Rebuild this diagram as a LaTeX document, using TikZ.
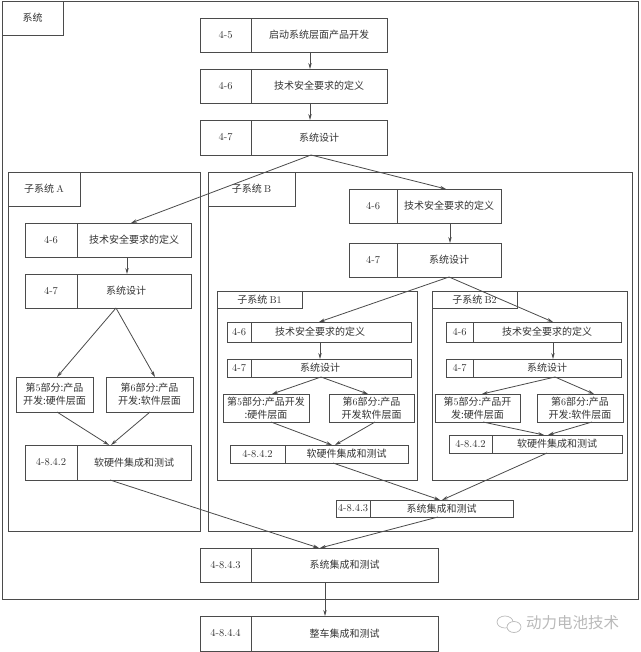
\documentclass[tikz,border=0pt]{standalone}
\usepackage{fontspec}
\usepackage{tikz}
\usetikzlibrary{arrows.meta,positioning}
\newfontfamily\cjk{Noto Sans CJK SC}
\definecolor{ink}{RGB}{75,75,75}
\definecolor{wmark}{RGB}{185,185,185}
\newcommand{\lm}[1]{{\rmfamily #1}}
\newcommand{\stp}[8]{%
  \node[cell,font=\fontsize{10.5}{12}\selectfont,minimum width={(#3-#2)*1pt},minimum height={(#6-#5)*1pt}]
    (#1n) at ({(#2+#3)/2},{(#5+#6)/2}) {#7};
  \node[cell,minimum width={(#4-#3)*1pt},minimum height={(#6-#5)*1pt}]
    (#1t) at ({(#3+#4)/2},{(#5+#6)/2}) {#8};}
\newcommand{\prt}[6]{%
  \node[cell,align=center,minimum width={(#3-#2)*1pt},minimum height={(#5-#4)*1pt}]
    (#1) at ({(#2+#3)/2},{(#4+#5)/2}) {#6};}
\newcommand{\frm}[8]{%
  \node[frame,minimum width={(#3-#2)*1pt},minimum height={(#5-#4)*1pt}]
    (#1) at ({(#2+#3)/2},{(#4+#5)/2}) {};
  \node[frame,fill=white,minimum width={(#6-#2)*1pt},minimum height={(#7-#4)*1pt}]
    (#1l) at ({(#2+#6)/2},{(#4+#7)/2}) {#8};}
\begin{document}
\begin{tikzpicture}[x=1pt,y=-1pt,
  cell/.style={draw=ink,line width=0.9pt,inner sep=0pt,outer sep=0pt,text=black!80,
    font=\cjk\fontsize{10}{13}\selectfont},
  frame/.style={cell,line width=0.95pt},
  arw/.style={-{Stealth[length=6pt,width=3.4pt]},draw=ink,line width=0.8pt}]
  \useasboundingbox (0,0) rectangle (640,652);

  \frm{sys}{2}{638}{1}{599}{63}{35}{系统}
  \frm{fa}{8}{200}{172}{531}{80}{206}{子系统 \lm{A}}
  \frm{fb}{208}{632}{172}{531}{295}{206}{子系统 \lm{B}}
  \frm{fbo}{217}{417}{291}{480}{302}{308}{子系统 \lm{B1}}
  \frm{fbt}{432}{627}{291}{480}{517}{308}{子系统 \lm{B2}}

  \stp{s5}{200}{251}{387}{18}{52}{4-5}{启动系统层面产品开发}
  \stp{s6}{200}{251}{387}{69}{103}{4-6}{技术安全要求的定义}
  \stp{s7}{200}{251}{387}{120}{155}{4-7}{系统设计}

  \stp{a6}{25}{77}{191}{223}{257}{4-6}{技术安全要求的定义}
  \stp{a7}{25}{77}{191}{274}{308}{4-7}{\hspace*{-16pt}系统设计}
  \prt{a5}{16}{93}{377}{412}{第\lm{5}部分:产品\\开发:硬件层面}
  \prt{ap}{106}{193}{377}{412}{第\lm{6}部分:产品\\开发:软件层面}
  \stp{a8}{25}{77}{191}{445}{480}{4-8.4.2}{软硬件集成和测试}

  \stp{b6}{349}{397}{501}{189}{223}{4-6}{技术安全要求的定义}
  \stp{b7}{349}{397}{501}{243}{277}{4-7}{系统设计}

  \stp{bo6}{227}{251}{411}{322}{342}{4-6}{\hspace*{-22pt}技术安全要求的定义}
  \stp{bo7}{227}{251}{411}{359}{377}{4-7}{\hspace*{-22pt}系统设计}
  \prt{bo5}{223}{309}{394}{422}{第\lm{5}部分:产品开发\\:硬件层面}
  \prt{bop}{329}{414}{394}{422}{第\lm{6}部分:产品\\开发软件层面}
  \stp{bo8}{230}{285}{408}{445}{463}{4-8.4.2}{软硬件集成和测试}

  \stp{bt6}{446}{473}{621}{322}{342}{4-6}{技术安全要求的定义}
  \stp{bt7}{446}{473}{621}{359}{377}{4-7}{系统设计}
  \prt{bt5}{435}{520}{394}{422}{第\lm{5}部分:产品开\\发:硬件层面}
  \prt{btp}{537}{623}{394}{422}{第\lm{6}部分:产品\\开发:软件层面}
  \stp{bt8}{449}{492}{622}{435}{453}{4-8.4.2}{软硬件集成和测试}

  \stp{b3}{336}{370}{513}{500}{517}{4-8.4.3}{系统集成和测试}
  \stp{m3}{200}{251}{438}{548}{582}{4-8.4.3}{系统集成和测试}
  \stp{m4}{200}{251}{438}{616}{651}{4-8.4.4}{整车集成和测试}

  \draw[arw] ([xshift=-9]s5t.south) -- ([xshift=-9]s6t.north);
  \draw[arw] ([xshift=-9]s6t.south) -- ([xshift=-9]s7t.north);
  \draw[arw] ([xshift=-8]s7t.south) -- ([xshift=-3]a6t.north);
  \draw[arw] ([xshift=-8]s7t.south) -- ([xshift=-3]b6t.north);

  \draw[arw] ([xshift=-7]a6t.south) -- ([xshift=-7]a7t.north);
  \draw[arw] ([xshift=-18]a7t.south) -- ([xshift=2.5]a5.north);
  \draw[arw] ([xshift=-18]a7t.south) -- ([xshift=5.5]ap.north);
  \draw[arw] ([xshift=2.5]a5.south) -- ([xshift=-25]a8t.north);
  \draw[arw] ([xshift=0.5]ap.south) -- ([xshift=-23]a8t.north);
  \draw[arw] ([xshift=-24]a8t.south) -- ([xshift=-25.5]m3t.north);

  \draw[arw] ([xshift=1]b6t.south) -- ([xshift=1]b7t.north);
  \draw[arw] (b7t.south) -- ([xshift=-12]bo6t.north);
  \draw[arw] (b7t.south) -- ([xshift=6]bt6t.north);

  \draw[arw] ([xshift=-11]bo6t.south) -- ([xshift=-11]bo7t.north);
  \draw[arw] ([xshift=-10]bo7t.south) -- ([xshift=6]bo5.north);
  \draw[arw] ([xshift=-10]bo7t.south) -- ([xshift=-3.5]bop.north);
  \draw[arw] ([xshift=5]bo5.south) -- ([xshift=-14.5]bo8t.north);
  \draw[arw] ([xshift=3.5]bop.south) -- ([xshift=-11.5]bo8t.north);
  \draw[arw] ([xshift=-13.5]bo8t.south) -- ([xshift=-1.5]b3t.north);

  \draw[arw] ([xshift=6]bt6t.south) -- ([xshift=6]bt7t.north);
  \draw[arw] ([xshift=8]bt7t.south) -- ([xshift=4.5]bt5.north);
  \draw[arw] ([xshift=8]bt7t.south) -- ([xshift=14]btp.north);
  \draw[arw] ([xshift=5.5]bt5.south) -- ([xshift=-13]bt8t.north);
  \draw[arw] ([xshift=12]btp.south) -- ([xshift=-9]bt8t.north);
  \draw[arw] ([xshift=-10]bt8t.south) -- ([xshift=0.5]b3t.north);

  \draw[arw] ([xshift=-3.5]b3t.south) -- ([xshift=-24.5]m3t.north);
  \draw[arw] ([xshift=-19.5]m3t.south) -- ([xshift=-19.5]m4t.north);

  \node[text=wmark,font=\cjk\fontsize{15.5}{17}\selectfont,inner sep=0pt] (wm) at (572.5,623) {动力电池技术};
  \draw[wmark,line width=0.7pt] (505,622) ellipse (8 and 6);
  \draw[wmark,line width=0.7pt,fill=white] (514,627) ellipse (7 and 5.5);
\end{tikzpicture}
\end{document}
